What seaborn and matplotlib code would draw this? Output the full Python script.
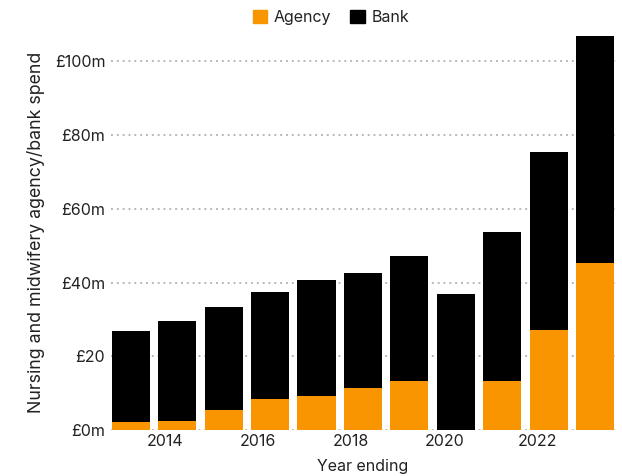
import matplotlib
matplotlib.use("Agg")
import matplotlib.pyplot as plt
import matplotlib.patches as mpatches
import seaborn as sns
import pandas as pd

years = [2013, 2014, 2015, 2016, 2017, 2018, 2019, 2020, 2021, 2022, 2023]
agency = [2.2, 2.4, 5.4, 8.4, 9.3, 11.5, 13.3, 0.0, 13.3, 27.1, 45.3]
bank = [24.6, 27.1, 27.9, 29.0, 31.3, 31.0, 33.9, 36.9, 40.4, 48.2, 61.6]
ytick_vals = [0, 20, 40, 60, 80, 100]
ytick_labels = ["£0m", "£20", "£40m", "£60m", "£80m", "£100m"]
xtick_vals = [2014, 2016, 2018, 2020, 2022]

ORANGE = "#F89500"
BLACK = "#000000"

sns.set_theme(style="white")
plt.rcParams["font.family"] = ["Inter", "DejaVu Sans"]

df = pd.DataFrame({"year": years, "agency": agency, "bank": bank})
# fiscal year ending ~ end of March
df["pos"] = df["year"] + 0.25
df["total"] = df["agency"] + df["bank"]

fig = plt.figure(figsize=(6.22, 4.76), dpi=100)
ax = fig.add_axes([0.178, 0.0966, 0.811, 0.829])

for v in ytick_vals:
    ax.axhline(v, color="#b8b8b8", linestyle=(0, (1, 2.0)), linewidth=1.4, zorder=0)

sns.barplot(data=df, x="pos", y="total", native_scale=True, color=BLACK,
            saturation=1, width=0.82, ax=ax, zorder=2, linewidth=0)
sns.barplot(data=df, x="pos", y="agency", native_scale=True, color=ORANGE,
            saturation=1, width=0.82, ax=ax, zorder=3, linewidth=0)

ax.set_xlim(2012.82, 2023.68)
ax.set_ylim(0, 107)
ax.set_yticks(ytick_vals)
ax.set_yticklabels(ytick_labels)
ax.set_xticks(xtick_vals)
ax.set_xticklabels([str(x) for x in xtick_vals])
ax.tick_params(axis="both", length=0, labelsize=11.5, colors="#222222", pad=4)
ax.tick_params(axis="x", pad=3)
ax.set_xlabel("Year ending", fontsize=11.5, color="#222222", labelpad=7)
ax.set_ylabel("Nursing and midwifery agency/bank spend", fontsize=12.8,
              color="#222222", labelpad=7)
for s in ax.spines.values():
    s.set_visible(False)
ax.grid(False)

handles = [mpatches.Patch(color=ORANGE, label="Agency"),
           mpatches.Patch(color=BLACK, label="Bank")]
fig.legend(handles=handles, loc="upper center", bbox_to_anchor=(0.532, 1.01),
           ncol=2, frameon=False, handlelength=0.9, handleheight=0.9,
           handletextpad=0.4, columnspacing=1.2, fontsize=11.5,
           labelcolor="#222222")

fig.savefig("out.png", dpi=100)
